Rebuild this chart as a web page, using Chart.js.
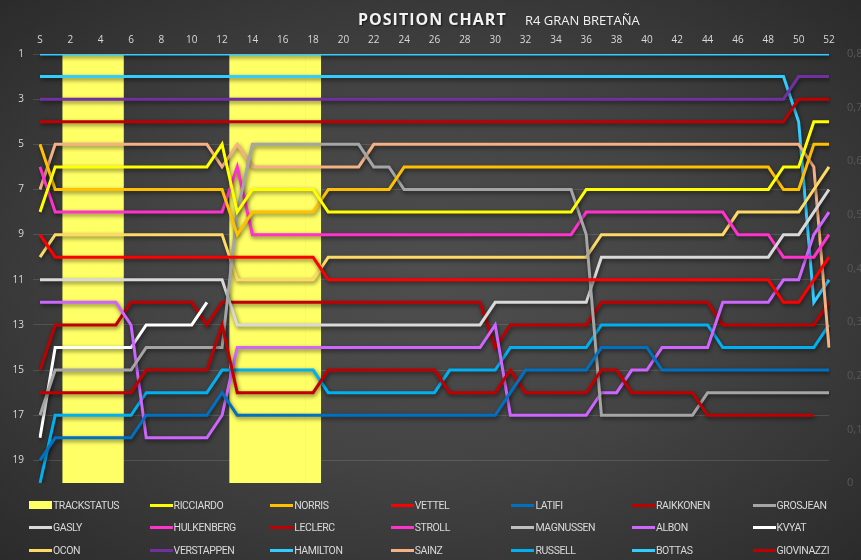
<!DOCTYPE html>
<html>
<head>
<meta charset="utf-8">
<script src="https://cdn.jsdelivr.net/npm/chart.js@4.4.1/dist/chart.umd.min.js"></script>
<style>
  html, body { margin: 0; padding: 0; }
  body {
    width: 861px; height: 560px; overflow: hidden; position: relative;
    background: radial-gradient(ellipse 72% 72% at 50% 50%, #4e4e4e 0%, #444 45%, #2a2a2a 100%);
    font-family: 'Open Sans', sans-serif;
  }
  #chart { position: absolute; left: 0; top: 0; }
  .title {
    position: absolute; top: 8px; left: 358px; color: #f2f2f2;
    font-weight: 700; font-size: 16px; letter-spacing: 1px;
    text-shadow: 1px 1px 2px rgba(0,0,0,0.6);
  }
  .subtitle {
    position: absolute; top: 11px; left: 525px; color: #f2f2f2;
    font-size: 13px;
  }
  #legend {
    position: absolute; left: 29px; top: 494px;
    display: grid; grid-template-columns: repeat(7, 120.6px); grid-auto-rows: 22.5px;
    font-family: 'Roboto', sans-serif; font-size: 10.5px; color: #d9d9d9; letter-spacing: -0.4px;
  }
  #legend .item { display: flex; align-items: center; white-space: nowrap; }
  #legend .sw { width: 23px; margin-right: 1px; }
</style>
</head>
<body>
<canvas id="chart" width="861" height="560"></canvas>
<div class="title">POSITION CHART</div>
<div class="subtitle">R4 GRAN BRETAÑA</div>
<div id="legend"></div>
<script>
// ── Data (positions per lap, S = start) ───────────────────────────────────────
const LAPS = ['S', ...Array.from({ length: 52 }, (_, i) => String(i + 1))]
const POS_TICKS = [1, 3, 5, 7, 9, 11, 13, 15, 17, 19]

// safety car laps
const TRACK_STATUS = [null, null, 0.8, 0.8, 0.8, 0.8, null, null, null, null,
  null, null, null, 0.8, 0.8, 0.8, 0.8, 0.8, 0.8]

const HAMILTON = [1,1,1,1,1,1,1,1,1,1, 1,1,1,1,1,1,1,1,1,1, 1,1,1,1,1,1,1,1,1,1,
  1,1,1,1,1,1,1,1,1,1, 1,1,1,1,1,1,1,1,1,1, 1,1,1]
const BOTTAS = [2,2,2,2,2,2,2,2,2,2, 2,2,2,2,2,2,2,2,2,2, 2,2,2,2,2,2,2,2,2,2,
  2,2,2,2,2,2,2,2,2,2, 2,2,2,2,2,2,2,2,2,2, 4,12,11]
const VERSTAPPEN = [3,3,3,3,3,3,3,3,3,3, 3,3,3,3,3,3,3,3,3,3, 3,3,3,3,3,3,3,3,3,3,
  3,3,3,3,3,3,3,3,3,3, 3,3,3,3,3,3,3,3,3,3, 2,2,2]
const LECLERC = [4,4,4,4,4,4,4,4,4,4, 4,4,4,4,4,4,4,4,4,4, 4,4,4,4,4,4,4,4,4,4,
  4,4,4,4,4,4,4,4,4,4, 4,4,4,4,4,4,4,4,4,4, 3,3,3]
const SAINZ = [7,5,5,5,5,5,5,5,5,5, 5,5,6,5,6,6,6,6,6,6, 6,6,5,5,5,5,5,5,5,5,
  5,5,5,5,5,5,5,5,5,5, 5,5,5,5,5,5,5,5,5,5, 5,6,14]
const NORRIS = [5,7,7,7,7,7,7,7,7,7, 7,7,7,9,8,8,8,8,8,7, 7,7,7,7,6,6,6,6,6,6,
  6,6,6,6,6,6,6,6,6,6, 6,6,6,6,6,6,6,6,6,7, 7,5,5]
const RICCIARDO = [8,6,6,6,6,6,6,6,6,6, 6,6,5,8,7,7,7,7,7,8, 8,8,8,8,8,8,8,8,8,8,
  8,8,8,8,8,8,7,7,7,7, 7,7,7,7,7,7,7,7,7,6, 6,4,4]
const STROLL = [6,8,8,8,8,8,8,8,8,8, 8,8,8,6,9,9,9,9,9,9, 9,9,9,9,9,9,9,9,9,9,
  9,9,9,9,9,9,8,8,8,8, 8,8,8,8,8,8,9,9,9,10, 10,10,9]
const GROSJEAN = [17,15,15,15,15,15,15,14,14,14, 14,14,14,8,5,5,5,5,5,5, 5,5,6,6,7,7,7,7,7,7,
  7,7,7,7,7,7,9,17,17,17, 17,17,17,17,16,16,16,16,16,16, 16,16,16]
const OCON = [10,9,9,9,9,9,9,9,9,9, 9,9,9,11,11,11,11,11,11,10, 10,10,10,10,10,10,10,10,10,10,
  10,10,10,10,10,10,10,9,9,9, 9,9,9,9,9,9,8,8,8,8, 8,7,6]
const VETTEL = [9,10,10,10,10,10,10,10,10,10, 10,10,10,10,10,10,10,10,10,11, 11,11,11,11,11,11,11,11,11,11,
  11,11,11,11,11,11,11,11,11,11, 11,11,11,11,11,11,11,11,11,12, 12,11,10]
const GASLY = [11,11,11,11,11,11,11,11,11,11, 11,11,11,13,13,13,13,13,13,13, 13,13,13,13,13,13,13,13,13,13,
  12,12,12,12,12,12,12,10,10,10, 10,10,10,10,10,10,10,10,10,9, 9,8,7]
const GIOVINAZZI = [15,13,13,13,13,13,12,12,12,12, 12,13,12,12,12,12,12,12,12,12, 12,12,12,12,12,12,12,12,12,12,
  14,13,13,13,13,13,13,12,12,12, 12,12,12,12,12,13,13,13,13,13, 13,13,12]
const RAIKKONEN = [16,16,16,16,16,16,16,15,15,15, 15,15,13,16,16,16,16,16,16,15, 15,15,15,15,15,15,15,16,16,16,
  16,15,16,16,16,16,16,15,15,16, 16,16,16,16,17,17,17,17,17,17, 17,17]
const RUSSELL = [20,17,17,17,17,17,17,16,16,16, 16,16,15,15,15,15,15,15,15,16, 16,16,16,16,16,16,16,15,15,15,
  15,14,14,14,14,14,14,13,13,13, 13,13,13,13,13,14,14,14,14,14, 14,14,13]
const LATIFI = [19,18,18,18,18,18,18,17,17,17, 17,17,16,17,17,17,17,17,17,17, 17,17,17,17,17,17,17,17,17,17,
  17,16,15,15,15,15,15,14,14,14, 14,15,15,15,15,15,15,15,15,15, 15,15,15]
const ALBON = [12,12,12,12,12,12,13,18,18,18, 18,18,17,14,14,14,14,14,14,14, 14,14,14,14,14,14,14,14,14,14,
  13,17,17,17,17,17,17,16,16,15, 15,14,14,14,14,12,12,12,12,11, 11,9,8]
const KVYAT = [18,14,14,14,14,14,14,13,13,13, 13,12]
const HULKENBERG = []
const MAGNUSSEN = []

// legend order (row by row, 7 per row)
const DRIVERS = [
    ['RICCIARDO', RICCIARDO, '#ffff00'],
    ['NORRIS', NORRIS, '#ffc000'],
    ['VETTEL', VETTEL, '#ff0000'],
    ['LATIFI', LATIFI, '#0070c0'],
    ['RAIKKONEN', RAIKKONEN, '#c00000'],
    ['GROSJEAN', GROSJEAN, '#a5a5a5'],
    ['GASLY', GASLY, '#d9d9d9'],
    ['HULKENBERG', HULKENBERG, '#ff33cc'],
    ['LECLERC', LECLERC, '#c00000'],
    ['STROLL', STROLL, '#ff33cc'],
    ['MAGNUSSEN', MAGNUSSEN, '#bfbfbf'],
    ['ALBON', ALBON, '#cc66ff'],
    ['KVYAT', KVYAT, '#ffffff'],
    ['OCON', OCON, '#ffd966'],
    ['VERSTAPPEN', VERSTAPPEN, '#7030a0'],
    ['HAMILTON', HAMILTON, '#33ccff'],
    ['SAINZ', SAINZ, '#f4b183'],
    ['RUSSELL', RUSSELL, '#00b0f0'],
    ['BOTTAS', BOTTAS, '#33ccff'],
    ['GIOVINAZZI', GIOVINAZZI, '#c00000'],
]

const datasets = [{
    type: 'bar',
    label: 'TRACKSTATUS',
    data: TRACK_STATUS,
    yAxisID: 'y2',
    backgroundColor: '#ffff66',
    barPercentage: 1,
    categoryPercentage: 1,
    order: 1,
}].concat(DRIVERS.map(([name, data, color]) => ({
    label: name,
    data,
    borderColor: color,
    backgroundColor: color,
    borderWidth: 3,
    pointRadius: 0,
    tension: 0,
    fill: false,
    order: 0,
})))

// soft drop shadow under the position lines only
const shadowPlugin = {
    id: 'shadow',
    beforeDatasetDraw(chart, args) {
        const ctx = chart.ctx
        ctx.save()
        if (args.meta.type !== 'line') return
        ctx.shadowColor = 'rgba(0,0,0,0.55)'
        ctx.shadowBlur = 4
        ctx.shadowOffsetX = 1
        ctx.shadowOffsetY = 2
    },
    afterDatasetDraw(chart) {
        chart.ctx.restore()
    },
}

const GRID = 'rgba(255,255,255,0.12)'

const chart = new Chart(document.getElementById('chart'), {
    type: 'line',
    data: { labels: LAPS, datasets },
    plugins: [shadowPlugin],
    options: {
        responsive: false,
        animation: false,
        layout: { padding: { left: 0, right: 0, top: 30, bottom: 77 } },
        plugins: { legend: { display: false }, tooltip: { enabled: false } },
        scales: {
            x: {
                position: 'top',
                offset: false,
                grid: { display: false, drawTicks: false },
                border: { display: false },
                ticks: {
                    autoSkip: false, maxRotation: 0, padding: 8,
                    color: '#d9d9d9', font: { family: 'Open Sans', size: 10 },
                    callback: (v, i) => (i % 2 === 0 ? LAPS[i] : ''),
                },
                afterFit: (s) => { s.height = 24 },
            },
            y: {
                reverse: true, min: 1, max: 20,
                afterBuildTicks: (s) => { s.ticks = POS_TICKS.map((v) => ({ value: v })) },
                grid: { color: GRID, tickLength: 7, tickColor: GRID },
                border: { display: false },
                ticks: { color: '#d9d9d9', padding: 9, font: { family: 'Open Sans', size: 10 } },
                afterFit: (s) => { s.width = 40 },
            },
            y2: {
                position: 'right', min: 0, max: 0.8,
                grid: { display: false, drawTicks: false },
                border: { display: false },
                ticks: {
                    stepSize: 0.1, color: '#585858', padding: 18,
                    font: { family: 'Open Sans', size: 11 },
                    callback: (v) => (v === 0 ? '0' : v.toFixed(1).replace('.', ',')),
                },
                afterFit: (s) => { s.width = 32 },
            },
        },
    },
})

// legend as a 7-column grid
const legendEl = document.getElementById('legend')
chart.data.datasets.forEach((ds) => {
    const item = document.createElement('div')
    item.className = 'item'
    const sw = document.createElement('span')
    sw.className = 'sw'
    const isBar = ds.type === 'bar'
    sw.style.height = isBar ? '8px' : '3px'
    sw.style.background = isBar ? ds.backgroundColor : ds.borderColor
    item.appendChild(sw)
    item.appendChild(document.createTextNode(ds.label))
    legendEl.appendChild(item)
})
</script>
</body>
</html>
